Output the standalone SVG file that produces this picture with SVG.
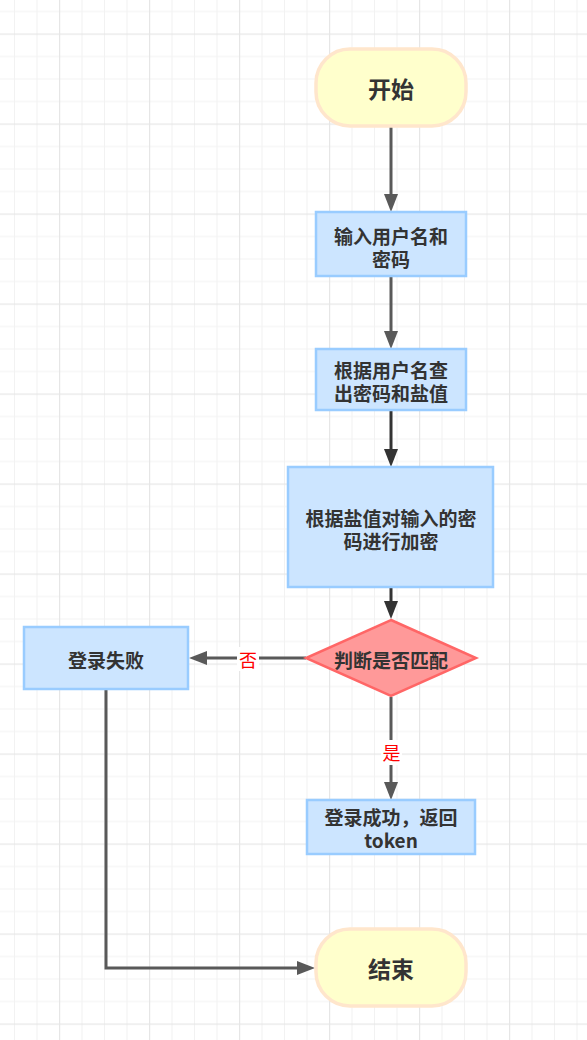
<svg xmlns="http://www.w3.org/2000/svg" width="587" height="1040" viewBox="0 0 587 1040">
<style>
.t{font-family:"Noto Sans CJK SC","Noto Sans",sans-serif;font-weight:bold;fill:#333333;text-anchor:middle;dominant-baseline:central}
.s19{font-size:19px}
.s23{font-size:23px}
.term{fill:#FFFFCC;stroke:#FFE6CC;stroke-width:3.5}
.proc{fill:#CCE5FF;stroke:#99CCFF;stroke-width:2.5}
.dec{fill:#FF9999;stroke:#FF6666;stroke-width:2.5}
.ln{fill:none;stroke:#595959;stroke-width:3}
.lnd{fill:none;stroke:#333333;stroke-width:3}
.lbl{font-family:"Noto Sans CJK SC","Noto Sans",sans-serif;font-size:18px;fill:#FF0000;text-anchor:middle;dominant-baseline:central}
</style>
<defs>
<pattern id="grid" x="59" y="33.5" width="90" height="90" patternUnits="userSpaceOnUse">
<rect x="0" y="0" width="90" height="90" fill="#ffffff"/>
<rect x="22.5" y="0" width="1" height="90" fill="#f2f2f2"/>
<rect x="45" y="0" width="1" height="90" fill="#f2f2f2"/>
<rect x="67.5" y="0" width="1" height="90" fill="#f2f2f2"/>
<rect x="0" y="22.5" width="90" height="1" fill="#f2f2f2"/>
<rect x="0" y="45" width="90" height="1" fill="#f2f2f2"/>
<rect x="0" y="67.5" width="90" height="1" fill="#f2f2f2"/>
<rect x="0" y="0" width="1.2" height="90" fill="#e6e6e6"/>
<rect x="0" y="0" width="90" height="1.2" fill="#e6e6e6"/>
</pattern>
<marker id="ag" markerUnits="userSpaceOnUse" markerWidth="18" markerHeight="14" refX="0" refY="7" orient="auto" overflow="visible">
<path d="M0,0 L18,7 L0,14 Z" fill="#595959"/>
</marker>
<marker id="ad" markerUnits="userSpaceOnUse" markerWidth="18" markerHeight="14" refX="0" refY="7" orient="auto" overflow="visible">
<path d="M0,0 L18,7 L0,14 Z" fill="#333333"/>
</marker>
</defs>
<rect x="0" y="0" width="587" height="1040" fill="url(#grid)"/>

<g id="connectors">
<path class="ln" d="M391,126 V194" marker-end="url(#ag)"/>
<path class="ln" d="M391,277 V331" marker-end="url(#ag)"/>
<path class="lnd" d="M391,411 V449" marker-end="url(#ad)"/>
<path class="lnd" d="M391,588 V601" marker-end="url(#ad)"/>
<path class="ln" d="M391,697 V782" marker-end="url(#ag)"/>
<path class="ln" d="M306,658 H207" marker-end="url(#ag)"/>
<path class="ln" d="M106,689 V968 H297" marker-end="url(#ag)"/>
<g id="label-no">
<rect x="237" y="647" width="22" height="24" fill="#ffffff"/>
<text class="lbl" x="248" y="659">否</text>
</g>
<g id="label-yes">
<rect x="381" y="740" width="21" height="25" fill="#ffffff"/>
<text class="lbl" x="391.5" y="752">是</text>
</g>
</g>

<g id="start">
<rect class="term" x="316" y="49" width="150" height="77" rx="34" ry="34"/>
<text class="t s23" x="391" y="88">开始</text>
</g>
<g id="input">
<rect class="proc" x="316" y="212" width="150" height="64"/>
<text class="t s19" x="391" y="235">输入用户名和</text>
<text class="t s19" x="391" y="258">密码</text>
</g>
<g id="query">
<rect class="proc" x="316" y="349" width="150" height="61"/>
<text class="t s19" x="391" y="369">根据用户名查</text>
<text class="t s19" x="391" y="392">出密码和盐值</text>
</g>
<g id="encrypt">
<rect class="proc" x="288" y="467" width="205" height="120"/>
<text class="t s19" x="391" y="517">根据盐值对输入的密</text>
<text class="t s19" x="391" y="540">码进行加密</text>
</g>
<g id="decision">
<path class="dec" d="M391,620 L476,658 L391,696 L306,658 Z"/>
<text class="t s19" x="391" y="659">判断是否匹配</text>
</g>
<g id="fail">
<rect class="proc" x="24" y="627" width="164" height="62"/>
<text class="t s19" x="106" y="659">登录失败</text>
</g>
<g id="success">
<rect class="proc" x="307" y="800" width="168" height="54"/>
<text class="t s19" x="391" y="816">登录成功，返回</text>
<text class="t s19" x="391" y="839">token</text>
</g>
<g id="end">
<rect class="term" x="316" y="929" width="150" height="77" rx="34" ry="34"/>
<text class="t s23" x="391" y="968">结束</text>
</g>
</svg>
